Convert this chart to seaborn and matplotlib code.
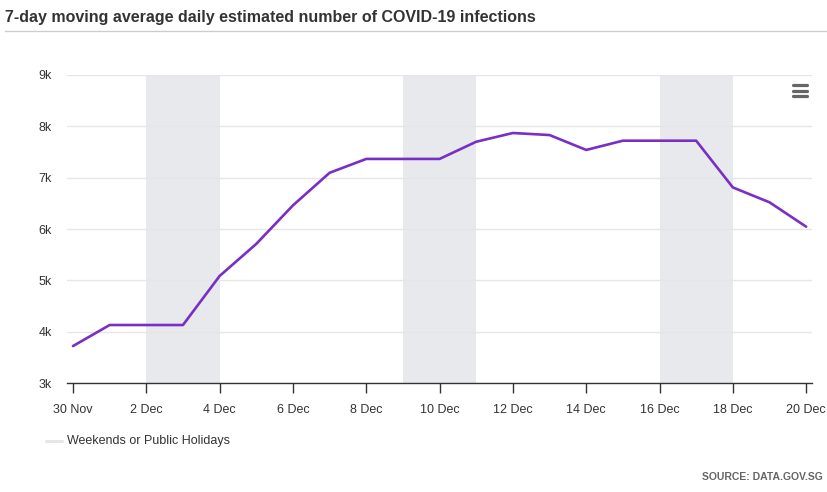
import matplotlib
import matplotlib.dates as mdates
import numpy as np
import pandas as pd
import seaborn as sns
from matplotlib.lines import Line2D

matplotlib.use("Agg")
import matplotlib.pyplot as plt


dates = [
    "2023-11-30", "2023-12-01", "2023-12-02", "2023-12-03", "2023-12-04",
    "2023-12-05", "2023-12-06", "2023-12-07", "2023-12-08", "2023-12-09",
    "2023-12-10", "2023-12-11", "2023-12-12", "2023-12-13", "2023-12-14",
    "2023-12-15", "2023-12-16", "2023-12-17", "2023-12-18", "2023-12-19",
    "2023-12-20",
]
infections = [
    3720, 4130, 4130, 4130, 5085, 5710, 6460, 7095, 7365, 7365,
    7365, 7700, 7870, 7830, 7540, 7720, 7720, 7720, 6810, 6520,
    6045,
]
holidays = ["2023-12-02", "2023-12-03", "2023-12-09", "2023-12-10", "2023-12-16", "2023-12-17"]
y_ticks = [3000, 4000, 5000, 6000, 7000, 8000, 9000]

LINE_COLOR = "#7a2fc4"
BAND_COLOR = "#e8e9ed"
TEXT_COLOR = "#333333"


def setup_style() -> None:
    sns.set_theme(style="white")
    plt.rcParams["font.family"] = ["Liberation Sans", "DejaVu Sans"]
    plt.rcParams["figure.facecolor"] = "white"
    plt.rcParams["axes.facecolor"] = "white"


def main() -> None:
    setup_style()
    df = pd.DataFrame({"date": pd.to_datetime(dates), "infections": infections})

    fig = plt.figure(figsize=(8.28, 4.92), dpi=100)
    ax = fig.add_axes([0.0809, 0.2215, 0.8998, 0.6261])

    for day in pd.to_datetime(holidays):
        ax.axvspan(day, day + pd.Timedelta(days=1), color=BAND_COLOR, lw=0, zorder=0)

    sns.lineplot(data=df, x="date", y="infections", color=LINE_COLOR, linewidth=1.9, ax=ax, zorder=3)

    start = mdates.date2num(df["date"].iloc[0])
    ax.set_xlim(start - 0.164, start + 20.16)
    ax.set_ylim(3000, 9000)

    tick_dates = df["date"].iloc[::2]
    ax.set_xticks(tick_dates)
    ax.set_xticklabels([f"{d.day} {d.strftime('%b')}" for d in tick_dates])
    ax.set_yticks(y_ticks)
    ax.set_yticklabels([f"{v // 1000}k" for v in y_ticks])

    ax.grid(axis="y", color="#e6e6e6", linewidth=1.0, zorder=1)
    ax.set_axisbelow(True)
    for side in ["top", "right", "left"]:
        ax.spines[side].set_visible(False)
    ax.spines["bottom"].set_color("#333333")
    ax.spines["bottom"].set_linewidth(1.0)
    ax.spines["bottom"].set_zorder(4)
    ax.tick_params(axis="x", length=7, width=1, color="#333333", labelsize=9, labelcolor=TEXT_COLOR, pad=8, direction="out", bottom=True)
    ax.tick_params(axis="y", length=0, labelsize=9, labelcolor=TEXT_COLOR, pad=11)
    ax.set_xlabel("")
    ax.set_ylabel("")

    fig.text(0.006, 0.965, "7-day moving average daily estimated number of COVID-19 infections",
             ha="left", va="center", fontsize=11.5, fontweight="bold", color=TEXT_COLOR)
    fig.add_artist(Line2D([0.006, 1.0], [0.937, 0.937], color="#cccccc", linewidth=1.0))

    # menu icon
    for y in [0.8272, 0.8160, 0.8049]:
        fig.add_artist(Line2D([0.9575, 0.9745], [y, y], color="#666666", linewidth=2.3, solid_capstyle="round"))

    # legend
    fig.add_artist(Line2D([0.056, 0.075], [0.104, 0.104], color="#e6e6e6", linewidth=2.2))
    fig.text(0.081, 0.104, "Weekends or Public Holidays", ha="left", va="center", fontsize=9, color=TEXT_COLOR)

    fig.text(0.994, 0.030, "SOURCE: DATA.GOV.SG", ha="right", va="center", fontsize=7.5,
             fontweight="bold", color="#666666")

    fig.savefig("out.png", dpi=100)
    plt.close(fig)


if __name__ == "__main__":
    main()
